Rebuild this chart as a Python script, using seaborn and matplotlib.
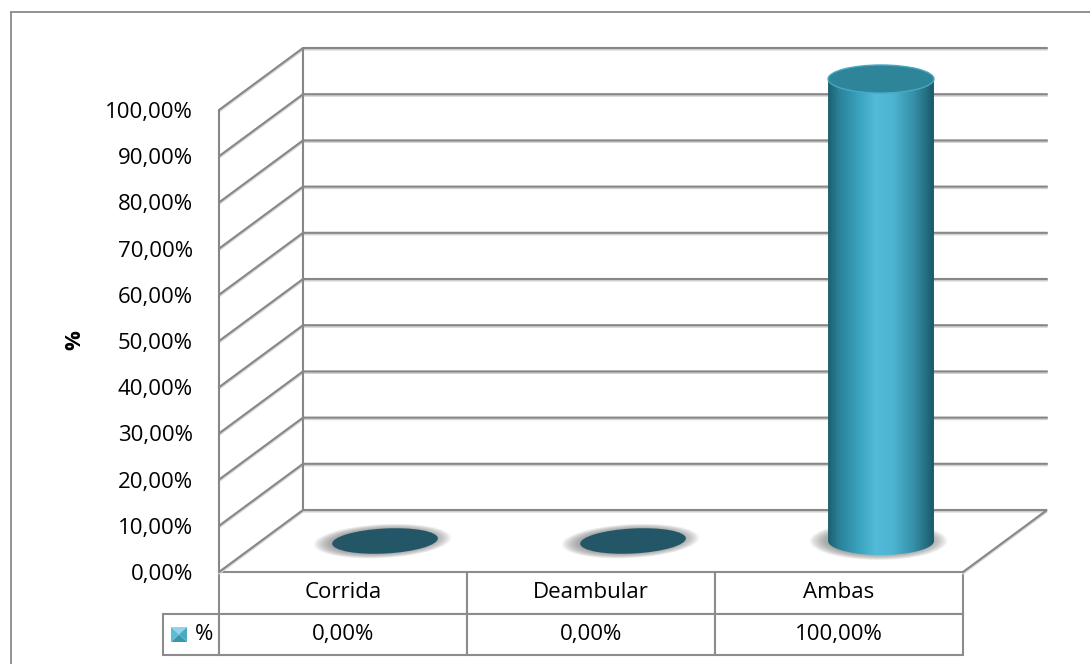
import numpy as np
import pandas as pd
import matplotlib
matplotlib.use("Agg")
import matplotlib.pyplot as plt
import seaborn as sns
from matplotlib.patches import Ellipse, Polygon
from matplotlib.lines import Line2D
from matplotlib.colors import LinearSegmentedColormap
from matplotlib import patheffects as pe
from matplotlib.table import Table
import matplotlib.transforms as mtransforms

# ---- data -------------------------------------------------------------
categories = ["Corrida", "Deambular", "Ambas"]
values = [0.0, 0.0, 100.0]
y_ticks = [0, 10, 20, 30, 40, 50, 60, 70, 80, 90, 100]
series_name = "%"


def pct(v):
    return f"{v:.2f}".replace(".", ",") + "%"


# ---- style ------------------------------------------------------------
sns.set_style("white")
plt.rcParams["font.family"] = ["Open Sans", "DejaVu Sans"]
plt.rcParams["text.color"] = "black"
plt.rcParams["axes.labelcolor"] = "black"
plt.rcParams["ytick.color"] = "black"
plt.rcParams["xtick.color"] = "black"
FS = 16
GRID = "#878787"
EDGE = "#8c8c8c"

fig = plt.figure(figsize=(10.9, 6.64), dpi=100)
W, H = 1090, 664
ax = fig.add_axes([219 / W, 92 / H, 744 / W, 462 / H])

df = pd.DataFrame({"cat": categories, "val": values})
sns.barplot(data=df, x="cat", y="val", ax=ax, width=0.427,
            color="#4bacc6", errorbar=None)
for p in ax.patches:
    p.set_alpha(0)

ax.set_xlim(-0.5, 2.5)
ax.set_ylim(0, 100)
for s in ax.spines.values():
    s.set_visible(False)

# depth of the 3-D box (in data units) and its half for the cylinders
DX = 84 / 248
DY = 62 * 100 / 462
hx, hy = DX / 2, DY / 2
PX = 462 / 100  # pixels per percent unit

shadow = [pe.SimpleLineShadow(offset=(0, -1.1), shadow_color="#d2d2d2", alpha=1),
          pe.Normal()]

# walls and gridlines
for v in y_ticks:
    xs = [-0.5, -0.5 + DX, 2.5 + DX]
    ys = [v, v + DY, v + DY]
    if v == 0:
        xs.append(2.5)
        ys.append(0)
    ax.plot(xs, ys, color=GRID, lw=1.5, clip_on=False, zorder=1,
            solid_joinstyle="miter", path_effects=shadow)
ax.plot([-0.5 + DX] * 2, [DY, 100 + DY], color=GRID, lw=1.5,
        clip_on=False, zorder=1)
ax.plot([-0.5, -0.5], [0, 100], color=GRID, lw=1.5, clip_on=False, zorder=1)

# cylinders
cyl_cmap = LinearSegmentedColormap.from_list("cyl", [
    (0.00, "#1c5f70"), (0.10, "#2a8098"), (0.30, "#3aa5c0"),
    (0.45, "#53bad7"), (0.62, "#4cb3d0"), (0.80, "#3792aa"),
    (0.93, "#246e82"), (1.00, "#1b5869")])
grad = np.tile(np.linspace(0, 1, 256), (2, 1))


def tilt(cx, cy, deg):
    px, py = ax.transData.transform((cx, cy))
    return ax.transData + mtransforms.Affine2D().rotate_deg_around(px, py, deg)


def glow(cx, cy, w, h, deg=0.0):
    tr = tilt(cx, cy, deg)
    for k in range(14):
        s = 1.30 - k * 0.022
        ax.add_patch(Ellipse((cx - 0.01, cy), w * s, h * (1 + (s - 1) * 1.2),
                             facecolor="#6e6e6e", edgecolor="none",
                             alpha=0.055, zorder=2, clip_on=False,
                             transform=tr))


for p in ax.patches[:len(values)]:
    w = p.get_width()
    x0 = p.get_x() + hx
    x1 = x0 + w
    cx = x0 + w / 2
    v = p.get_height()
    base = hy
    top = v + hy
    if v > 0:
        eh = 28 / PX
        glow(cx, base, w, eh)
        t = np.linspace(np.pi, 2 * np.pi, 80)
        pts = np.column_stack([cx + w / 2 * np.cos(t), base + eh / 2 * np.sin(t)])
        pts = np.vstack([[x0, top], pts, [x1, top]])
        body = Polygon(pts, closed=True, transform=ax.transData)
        im = ax.imshow(grad, extent=[x0, x1, base - eh / 2, top],
                       aspect="auto", cmap=cyl_cmap, zorder=3,
                       interpolation="bilinear")
        im.set_clip_path(body)
        im.set_clip_box(fig.bbox)
        ax.add_patch(Ellipse((cx, top), w, eh, facecolor="#2e8498",
                             edgecolor="#46a9c3", lw=1.0, zorder=4,
                             clip_on=False))
    else:
        eh = 25 / PX
        glow(cx, base, w, eh, 3)
        ax.add_patch(Ellipse((cx, base), w, eh, facecolor="#235767",
                             edgecolor="none", zorder=4, clip_on=False,
                             transform=tilt(cx, base, 3)))

ax.set_xlim(-0.5, 2.5)
ax.set_ylim(0, 100)

# axis labels
ax.set_yticks(y_ticks)
ax.set_yticklabels([pct(v) for v in y_ticks], fontsize=FS)
ax.tick_params(axis="y", length=0, pad=18.7)
ax.tick_params(axis="x", length=0, labelbottom=False)
ax.set_xlabel("")
ax.set_ylabel("%", fontsize=FS, fontweight="bold")
ax.yaxis.set_label_coords(-0.180, 0.502)

# data table under the plot
tbl = Table(ax, bbox=[0, -83 / 462, 1, 83 / 462])
cw, lw_, h0, h1 = 248 / 744, 56 / 744, 42 / 462, 41 / 462
for j, c in enumerate(categories):
    tbl.add_cell(0, j, cw, h0, text=c, loc="center")
tbl.add_cell(1, -1, lw_, h1, text=series_name, loc="right")
for j, v in enumerate(values):
    tbl.add_cell(1, j, cw, h1, text=pct(v), loc="center")
tbl.auto_set_font_size(False)
tbl.set_fontsize(FS)
for cell in tbl.get_celld().values():
    cell.set_edgecolor(EDGE)
    cell.set_linewidth(1.5)
ax.add_table(tbl)

# legend key inside the table row label
kx0, kx1 = (171 - 219) / 744, (187 - 219) / 744
ky0, ky1 = (572 - 642) / 462, (572 - 627) / 462
kcx, kcy = (kx0 + kx1) / 2, (ky0 + ky1) / 2
for verts, col in [
    ([(kx0, ky1), (kx1, ky1), (kcx, kcy)], "#8fd4e8"),
    ([(kx0, ky0), (kx1, ky0), (kcx, kcy)], "#3c95ad"),
    ([(kx0, ky0), (kx0, ky1), (kcx, kcy)], "#5cbcd6"),
    ([(kx1, ky0), (kx1, ky1), (kcx, kcy)], "#4aaac4"),
]:
    ax.add_patch(Polygon(verts, closed=True, facecolor=col, edgecolor="none",
                         transform=ax.transAxes, clip_on=False, zorder=5))

# chart area border
fig.add_artist(Line2D([10.5 / W, 1], [1 - 11.5 / H] * 2,
                      transform=fig.transFigure, color="#8a8a8a", lw=1.3))
fig.add_artist(Line2D([10.5 / W] * 2, [0, 1 - 11.5 / H],
                      transform=fig.transFigure, color="#8a8a8a", lw=1.3))

fig.savefig("out.png", dpi=100, facecolor="white")
